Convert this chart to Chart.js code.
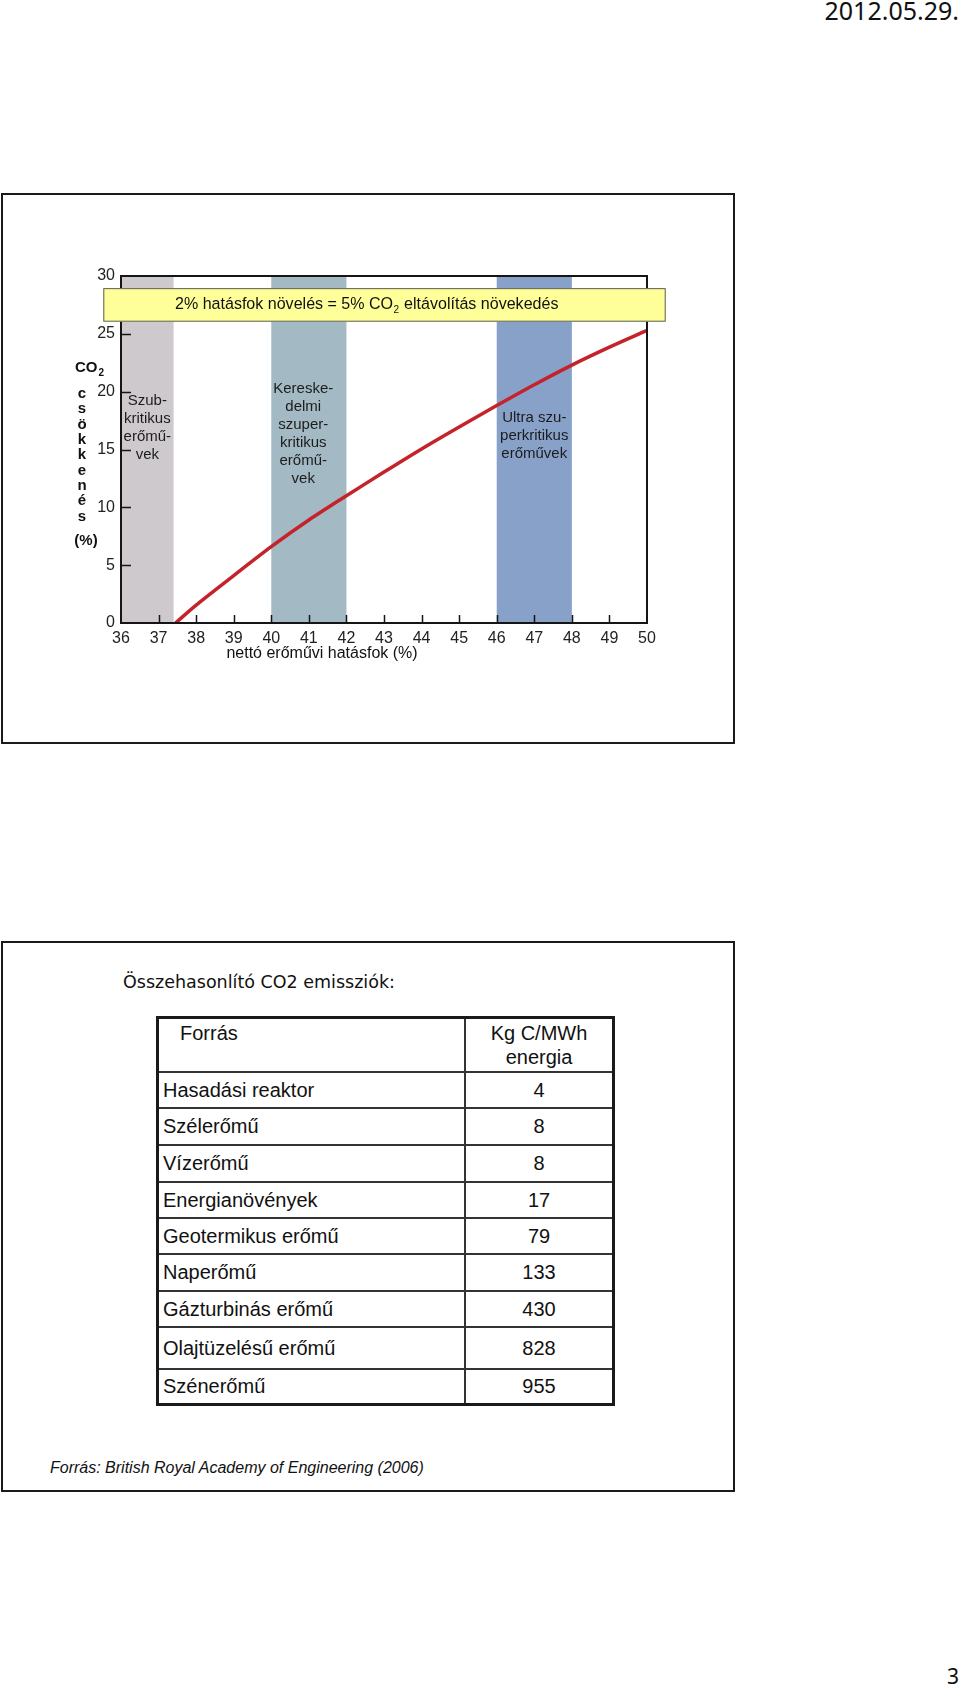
<!DOCTYPE html>
<html>
<head>
<meta charset="utf-8">
<script src="https://cdn.jsdelivr.net/npm/chart.js@4.4.1/dist/chart.umd.min.js"></script>
<style>
  html, body { margin: 0; padding: 0; background: #fff; }
  body { width: 960px; height: 1689px; position: relative; overflow: hidden; font-family: "Liberation Sans", Arial, sans-serif; color: #111; }
  .frame { position: absolute; left: 1px; width: 734px; height: 551px; border: 2px solid #1a1a1a; box-sizing: border-box; }
  #date { position: absolute; right: 1px; top: -2px; font: 25px/24px "Noto Sans", sans-serif; color: #111; }
  #pageno { position: absolute; right: 1px; top: 1666px; font: 21px/21px "Noto Sans", sans-serif; color: #111; }
  #chart { position: absolute; left: 0; top: 194px; }
  #title { position: absolute; left: 123px; top: 971px; font: 17.5px/22px "Comic Sans MS", "DejaVu Sans", sans-serif; color: #111; }
  #tbl { position: absolute; left: 156px; top: 1016px; width: 459px; border-collapse: collapse; border: 3px solid #1a1a1a; }
  #tbl td { border: 2px solid #333; padding: 0 0 0 4px; font-size: 20px; line-height: 24px; color: #111; }
  #tbl td.v { text-align: center; padding: 0; width: 146px; }
  #tbl tr.head td { vertical-align: top; padding-top: 2px; }
  #tbl tr.head td.src { padding-left: 21px; }
  #footer { position: absolute; left: 50px; top: 1458px; font: italic 16px/20px "Liberation Sans", Arial, sans-serif; color: #111; }
</style>
</head>
<body>
<div id="date">2012.05.29.</div>
<div class="frame" style="top:193px"></div>
<canvas id="chart" width="736" height="549"></canvas>
<div class="frame" style="top:941px"></div>
<div id="title">Összehasonlító CO2 emissziók:</div>
<table id="tbl"></table>
<div id="footer">Forrás: British Royal Academy of Engineering (2006)</div>
<div id="pageno">3</div>

<script>
// --- upper chart data ---
const efficiency = [37.45, 38, 39, 40, 41, 42, 43, 44, 45, 46, 47, 48, 49, 50];
const co2Cut = [0, 1.55, 4.1, 6.6, 8.9, 11.0, 13.05, 15.05, 16.95, 18.8, 20.6, 22.3, 23.85, 25.3];
const bandFrom = [36, 40, 46];
const bandTo = [37.4, 42, 48];
const bandNames = [
  ['Szub-', 'kritikus', 'erőmű-', 'vek'],
  ['Kereske-', 'delmi', 'szuper-', 'kritikus', 'erőmű-', 'vek'],
  ['Ultra szu-', 'perkritikus', 'erőművek']
];
const yTitle = ['c', 's', 'ö', 'k', 'k', 'e', 'n', 'é', 's'];

// --- lower table data ---
const sources = ['Hasadási reaktor', 'Szélerőmű', 'Vízerőmű', 'Energianövények', 'Geotermikus erőmű',
  'Naperőmű', 'Gázturbinás erőmű', 'Olajtüzelésű erőmű', 'Szénerőmű'];
const emissions = [4, 8, 8, 17, 79, 133, 430, 828, 955];

const tbl = document.getElementById('tbl');
const rowH = [36, 37, 37, 36, 36, 37, 36, 42, 36];
tbl.innerHTML = '<tr class="head" style="height:54px"><td class="src">Forrás</td><td class="v">Kg C/MWh<br>energia</td></tr>' +
  sources.map((s, i) => `<tr style="height:${rowH[i]}px"><td>${s}</td><td class="v">${emissions[i]}</td></tr>`).join('');

const FONT = '"Liberation Sans", Arial, sans-serif';
const bandColors = ['#cdc9cc', '#a3b9c3', '#87a1c9'];
const labelX = [36.7, 40.85, 47.0];
const labelTop = [401, 389, 418];   // page y of first line

const decor = {
  id: 'decor',
  beforeDatasetsDraw(chart) {
    const { ctx, chartArea: a, scales: { x } } = chart;
    bandFrom.forEach((b, i) => {
      const x0 = x.getPixelForValue(b), x1 = x.getPixelForValue(bandTo[i]);
      ctx.fillStyle = bandColors[i];
      ctx.fillRect(x0, a.top, x1 - x0, a.bottom - a.top);
    });
    // band labels
    ctx.save();
    ctx.fillStyle = '#1c1c1c';
    ctx.font = '15px ' + FONT;
    ctx.textAlign = 'center';
    ctx.textBaseline = 'middle';
    bandNames.forEach((lines, i) => {
      const cx = x.getPixelForValue(labelX[i]);
      lines.forEach((t, j) => ctx.fillText(t, cx, labelTop[i] - 194 + j * 18));
    });
    ctx.restore();
  },
  afterDatasetsDraw(chart) {
    const { ctx, chartArea: a, scales: { x, y } } = chart;
    ctx.save();
    ctx.strokeStyle = '#151515';
    ctx.lineWidth = 2;
    ctx.strokeRect(a.left, a.top, a.right - a.left, a.bottom - a.top);
    ctx.lineWidth = 1.5;
    ctx.beginPath();
    for (let v = 5; v < 30; v += 5) {
      const py = Math.round(y.getPixelForValue(v)) + 0.5;
      ctx.moveTo(a.left, py); ctx.lineTo(a.left + 10, py);
    }
    for (let v = 37; v < 50; v++) {
      const px = Math.round(x.getPixelForValue(v)) + 0.5;
      ctx.moveTo(px, a.bottom); ctx.lineTo(px, a.bottom - 8);
    }
    ctx.stroke();

    // yellow banner
    const bx0 = a.left - 17.7, bx1 = a.right + 18.7;
    const by0 = y.getPixelForValue(28.95), by1 = y.getPixelForValue(26.05);
    ctx.fillStyle = '#ffff99';
    ctx.fillRect(bx0, by0, bx1 - bx0, by1 - by0);
    ctx.strokeStyle = '#5a5a5a';
    ctx.lineWidth = 1;
    ctx.strokeRect(bx0 + 0.5, by0 + 0.5, bx1 - bx0 - 1, by1 - by0 - 1);
    ctx.fillStyle = '#111';
    ctx.textBaseline = 'middle';
    ctx.textAlign = 'left';
    const cy = (by0 + by1) / 2;
    const p1 = '2% hatásfok növelés = 5% CO', p2 = ' eltávolítás növekedés';
    ctx.font = '16px ' + FONT;
    const w0 = ctx.measureText(p1 + p2).width + 7;
    const fs = 16 * 384 / w0;
    let tx = 175;
    ctx.font = fs + 'px ' + FONT;
    ctx.fillText(p1, tx, cy); tx += ctx.measureText(p1).width;
    ctx.font = '10px ' + FONT;
    ctx.fillText('2', tx + 0.5, cy + 5); tx += ctx.measureText('2').width + 1;
    ctx.font = fs + 'px ' + FONT;
    ctx.fillText(p2, tx, cy);

    // y axis title
    ctx.font = 'bold 15px ' + FONT;
    ctx.fillText('CO', 75, 368 - 194);
    const cw = ctx.measureText('CO').width;
    ctx.font = 'bold 10px ' + FONT;
    ctx.fillText('2', 75 + cw + 1, 368 - 194 + 5);
    ctx.font = 'bold 15px ' + FONT;
    ctx.textAlign = 'center';
    yTitle.forEach((t, i) => ctx.fillText(t, 82, 394 - 194 + i * 15.3));
    ctx.fillText('(%)', 86, 541 - 194);

    // x axis title
    ctx.font = '16px ' + FONT;
    ctx.fillText('nettó erőművi hatásfok (%)', x.getPixelForValue(41.35), a.bottom + 31);
    ctx.restore();
  }
};

new Chart(document.getElementById('chart'), {
  type: 'line',
  data: {
    datasets: [{
      data: efficiency.map((v, i) => ({ x: v, y: co2Cut[i] })),
      borderColor: '#c4232b',
      borderWidth: 3.5,
      pointRadius: 0,
      tension: 0.3,
      fill: false
    }]
  },
  options: {
    responsive: false,
    animation: false,
    devicePixelRatio: 1,
    layout: { padding: { left: 81, top: 82, right: 89, bottom: 80 } },
    plugins: { legend: { display: false }, tooltip: { enabled: false } },
    scales: {
      x: {
        type: 'linear', min: 36, max: 50,
        afterFit: s => { s.height = 40; },
        grid: { display: false, drawTicks: false },
        border: { display: false },
        ticks: { stepSize: 1, padding: 6, autoSkip: false, maxRotation: 0, color: '#222', font: { size: 16, family: FONT } }
      },
      y: {
        min: 0, max: 30,
        afterFit: s => { s.width = 40; },
        grid: { display: false, drawTicks: false },
        border: { display: false },
        ticks: { stepSize: 5, padding: 6, color: '#222', font: { size: 16, family: FONT } }
      }
    }
  },
  plugins: [decor]
});
</script>
</body>
</html>
